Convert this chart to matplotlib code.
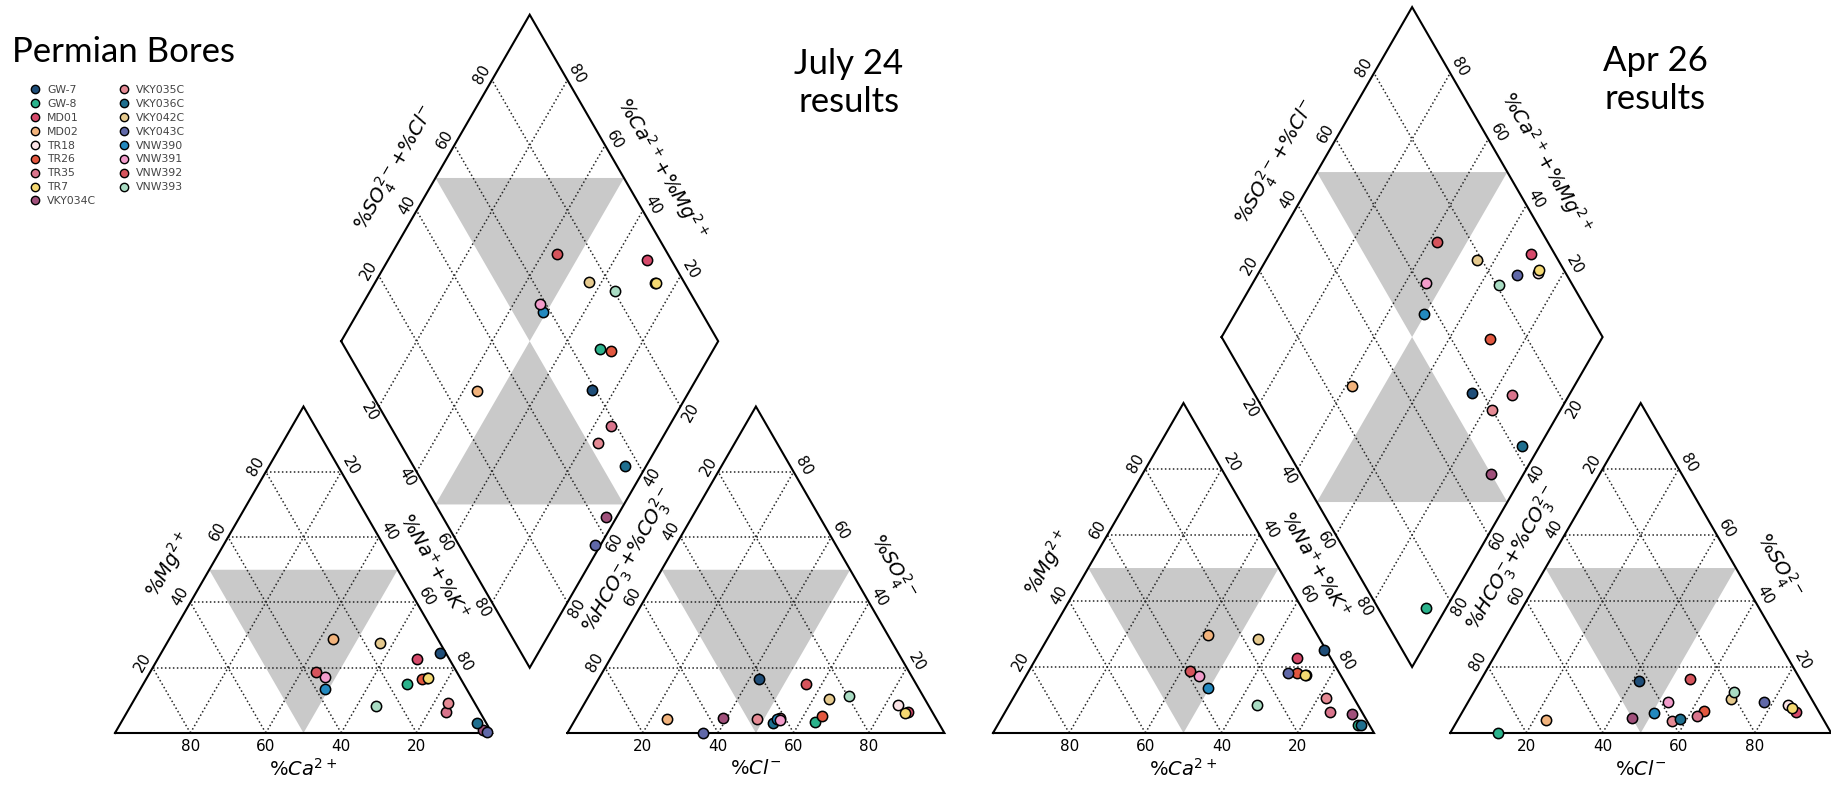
import numpy as np
import matplotlib.pyplot as plt
from matplotlib.lines import Line2D

plt.rcParams['font.family'] = 'DejaVu Sans'
plt.rcParams['mathtext.fontset'] = 'dejavusans'

# Bores and their marker colours
samples = ['GW-7', 'GW-8', 'MD01', 'MD02', 'TR18', 'TR26', 'TR35', 'TR7',
           'VKY034C', 'VKY035C', 'VKY036C', 'VKY042C', 'VKY043C',
           'VNW390', 'VNW391', 'VNW392', 'VNW393']
colors = ['#1f4e79', '#2bb38c', '#d64a6b', '#f2b37c', '#fbe3e6', '#e2573f',
          '#d9748c', '#f5d972', '#a0507b', '#e58a94', '#1f6f8f', '#e6ca8e',
          '#6068a8', '#2389bf', '#f29ccb', '#d6545c', '#a9dcc3']

# July 24 results, % of meq/L
jul_ca = [1.6, 15.1, 8.7, 27.7, 8.8, 10.4, 9.0, 8.6, 1.9, 7.1, 2.6, 15.9, 1.2, 37.6, 35.7, 37.3, 26.7]
jul_mg = [24.4, 15.0, 22.6, 28.7, 16.8, 16.5, 6.5, 16.8, 0.9, 9.3, 3.0, 27.5, 0.4, 13.4, 17.2, 18.8, 8.3]
jul_nak = [74.0, 69.9, 68.7, 43.6, 74.4, 73.1, 84.5, 74.6, 97.2, 83.6, 94.4, 56.6, 98.4, 49.0, 47.1, 43.9, 65.0]
jul_hco3 = [40.9, 32.5, 6.4, 71.6, 7.9, 29.9, 41.4, 7.5, 56.6, 47.5, 43.8, 25.3, 64.0, 42.2, 41.6, 29.3, 19.5]
jul_so4 = [16.4, 3.5, 6.3, 4.2, 8.6, 5.3, 4.5, 6.0, 4.5, 4.3, 3.2, 10.4, 0.0, 4.3, 4.0, 15.0, 11.4]
jul_cl = [42.7, 64.0, 87.3, 24.2, 83.5, 64.8, 54.1, 86.5, 38.9, 48.2, 53.0, 64.3, 36.0, 53.5, 54.4, 55.7, 69.1]

# Apr 26 results, % of meq/L
apr_ca = [0.5, 2.9, 8.8, 28.6, 9.0, 11.0, 8.3, 9.3, 2.8, 7.3, 2.3, 16.3, 13.5, 36.7, 37.2, 38.9, 26.5]
apr_mg = [25.2, 2.4, 22.6, 29.7, 17.5, 18.3, 6.5, 17.6, 5.7, 10.5, 2.4, 28.4, 18.3, 13.6, 17.3, 18.9, 8.5]
apr_nak = [74.3, 94.7, 68.6, 41.7, 73.5, 70.7, 85.2, 73.1, 91.5, 82.2, 95.3, 55.3, 68.2, 49.7, 45.5, 42.2, 65.0]
apr_hco3 = [42.6, 87.4, 6.1, 73.0, 7.2, 30.0, 32.5, 6.6, 50.0, 40.0, 37.7, 21.3, 12.9, 43.3, 38.2, 28.9, 19.3]
apr_so4 = [15.8, 0.0, 6.5, 3.9, 8.5, 6.7, 5.2, 7.5, 4.5, 3.6, 4.2, 10.2, 9.5, 6.2, 9.5, 16.3, 12.5]
apr_cl = [41.6, 12.6, 87.4, 23.1, 84.3, 63.3, 62.3, 85.9, 45.5, 56.4, 58.1, 68.5, 77.6, 50.5, 52.3, 54.8, 68.2]

ticks = [20, 40, 60, 80]

# Piper geometry
OFF = 0.1
H = np.sqrt(3) / 2
OFFY = OFF * np.tan(np.pi / 3)
L = np.array([0.5 + OFF, H + OFFY])
T = np.array([1 + OFF, 2 * H + OFFY])
R = np.array([1.5 + OFF, H + OFFY])
B = np.array([1 + OFF, OFFY])
AX0 = 1 + 2 * OFF

N_UL = np.array([-H, 0.5])
N_UR = np.array([H, 0.5])
N_LL = np.array([-H, -0.5])
N_LR = np.array([H, -0.5])


def cation_xy(mg, nak):
    mg, nak = np.asarray(mg) / 100, np.asarray(nak) / 100
    return nak + 0.5 * mg, H * mg


def anion_xy(so4, cl):
    so4, cl = np.asarray(so4) / 100, np.asarray(cl) / 100
    return AX0 + cl + 0.5 * so4, H * so4


def diamond_xy(nak, hco3):
    p, q = np.asarray(nak) / 100, np.asarray(hco3) / 100
    return 1 + OFF + 0.5 * (p - q), OFFY + H * (2 - p - q)


def seg(ax, a, b, **kw):
    ax.plot([a[0], b[0]], [a[1], b[1]], **kw)


def label_at(ax, pt, normal, dist, text, rot, fs):
    p = np.asarray(pt) + dist * normal
    ax.text(p[0], p[1], text, rotation=rot, ha='center', va='center',
            fontsize=fs, rotation_mode='anchor', clip_on=False)


def draw_piper(ax, mg, nak, so4, cl, hco3):
    grid = dict(color='0.15', ls=(0, (1.0, 1.6)), lw=1.1, zorder=2)
    edge = dict(color='k', lw=1.5, zorder=3, solid_joinstyle='miter')
    shade = dict(color='#c9c9c9', lw=0, zorder=1)

    # shaded centre fields
    ax.fill([0.25, 0.75, 0.5], [H / 2, H / 2, 0], **shade)
    ax.fill([AX0 + 0.25, AX0 + 0.75, AX0 + 0.5], [H / 2, H / 2, 0], **shade)
    ax.fill([0.75 + OFF, 1.25 + OFF, 1 + OFF],
            [1.5 * H + OFFY, 1.5 * H + OFFY, H + OFFY], **shade)
    ax.fill([1 + OFF, 0.75 + OFF, 1.25 + OFF],
            [H + OFFY, 0.5 * H + OFFY, 0.5 * H + OFFY], **shade)

    for t in np.array(ticks) / 100:
        # cation triangle
        seg(ax, (0.5 * t, H * t), (1 - 0.5 * t, H * t), **grid)
        seg(ax, (t, 0), (t + 0.5 * (1 - t), H * (1 - t)), **grid)
        seg(ax, (1 - t, 0), (0.5 * (1 - t), H * (1 - t)), **grid)
        # anion triangle
        seg(ax, (AX0 + 0.5 * t, H * t), (AX0 + 1 - 0.5 * t, H * t), **grid)
        seg(ax, (AX0 + t, 0), (AX0 + t + 0.5 * (1 - t), H * (1 - t)), **grid)
        seg(ax, (AX0 + 1 - t, 0), (AX0 + 0.5 * (1 - t), H * (1 - t)), **grid)
        # diamond
        seg(ax, L + t * (B - L), T + t * (R - T), **grid)
        seg(ax, R + t * (B - R), T + t * (L - T), **grid)

    # outlines
    ax.plot([0, 1, 0.5, 0], [0, 0, H, 0], **edge)
    ax.plot([AX0, AX0 + 1, AX0 + 0.5, AX0], [0, 0, H, 0], **edge)
    ax.plot([L[0], T[0], R[0], B[0], L[0]], [L[1], T[1], R[1], B[1], L[1]], **edge)

    # tick labels
    tfs, d = 11, 0.03
    for v in ticks:
        t = v / 100
        s = str(v)
        label_at(ax, (1 - t, 0), np.array([0, -1]), 0.036, s, 0, tfs)
        label_at(ax, (0.5 * t, H * t), N_UL, d, s, 60, tfs)
        label_at(ax, (0.5 + 0.5 * t, H * (1 - t)), N_UR, d, s, -60, tfs)
        label_at(ax, (AX0 + t, 0), np.array([0, -1]), 0.036, s, 0, tfs)
        label_at(ax, (AX0 + 0.5 * (1 - t), H * (1 - t)), N_UL, d, s, 60, tfs)
        label_at(ax, (AX0 + 1 - 0.5 * t, H * t), N_UR, d, s, -60, tfs)
        label_at(ax, L + t * (T - L), N_UL, d, s, 60, tfs)
        label_at(ax, R + t * (T - R), N_UR, d, s, -60, tfs)
        label_at(ax, L + t * (B - L), N_LL, d, s, -60, tfs)
        label_at(ax, R + t * (B - R), N_LR, d, s, 60, tfs)

    # axis titles
    lfs = 14
    up_l = np.array([0.5, H])
    up_r = np.array([-0.5, H])
    label_at(ax, (0.5, 0), np.array([0, -1]), 0.095, r'%$Ca^{2+}$', 0, lfs)
    label_at(ax, (AX0 + 0.5, 0), np.array([0, -1]), 0.095, r'%$Cl^{-}$', 0, lfs)
    label_at(ax, 0.46 * up_l, N_UL, 0.10, r'%$Mg^{2+}$', 60, lfs)
    label_at(ax, np.array([1, 0]) + 0.46 * up_r, N_UR, 0.087,
             r'%$Na^{+}$+%$K^{+}$', -60, lfs)
    label_at(ax, np.array([AX0, 0]) + 0.48 * up_l, N_UL, 0.087,
             r'%$HCO_3^{-}$+%$CO_3^{2-}$', 60, lfs)
    label_at(ax, np.array([AX0 + 1, 0]) + 0.45 * up_r, N_UR, 0.10,
             r'%$SO_4^{2-}$', -60, lfs)
    label_at(ax, L + 0.47 * up_l, N_UL, 0.105, r'%$SO_4^{2-}$+%$Cl^{-}$', 60, lfs)
    label_at(ax, R + 0.47 * up_r, N_UR, 0.10, r'%$Ca^{2+}$+%$Mg^{2+}$', -60, lfs)

    # samples
    cx, cy = cation_xy(mg, nak)
    ax2, ay = anion_xy(so4, cl)
    dx, dy = diamond_xy(nak, hco3)
    for i, c in enumerate(colors):
        for x, y in ((cx[i], cy[i]), (ax2[i], ay[i]), (dx[i], dy[i])):
            ax.scatter(x, y, s=55, color=c, edgecolors='k', linewidths=1.1,
                       zorder=5 + i, clip_on=False)


W, HT = 1835, 785
fig = plt.figure(figsize=(W / 100, HT / 100), dpi=100)


def piper_axes(x0, base, unit, xlim, ylim):
    left = (x0 + xlim[0] * unit) / W
    width = (xlim[1] - xlim[0]) * unit / W
    bottom = (HT - base + ylim[0] * unit) / HT
    height = (ylim[1] - ylim[0]) * unit / HT
    ax = fig.add_axes([left, bottom, width, height])
    ax.set_xlim(*xlim)
    ax.set_ylim(*ylim)
    ax.axis('off')
    return ax


ax_jul = piper_axes(115, 733, 377, (-0.3, 2.3), (-0.13, 1.93))
draw_piper(ax_jul, jul_mg, jul_nak, jul_so4, jul_cl, jul_hco3)

ax_apr = piper_axes(993, 733, 381, (-0.25, 2.2), (-0.13, 1.92))
draw_piper(ax_apr, apr_mg, apr_nak, apr_so4, apr_cl, apr_hco3)

fig.text(12 / W, 1 - 62 / HT, 'Permian Bores', fontsize=25, family='Lato',
         va='baseline', ha='left')
fig.text(849 / W, 1 - 83 / HT, 'July 24\nresults', fontsize=25, family='Lato',
         ha='center', va='center', linespacing=1.2)
fig.text(1655 / W, 1 - 80 / HT, 'Apr 26\nresults', fontsize=25, family='Lato',
         ha='center', va='center', linespacing=1.2)

handles = [Line2D([], [], ls='none', marker='o', markersize=6,
                  markerfacecolor=c, markeredgecolor='k', markeredgewidth=1.0)
           for c in colors]
fig.legend(handles, samples, loc='upper left', bbox_to_anchor=(30 / W, 1 - 85 / HT),
           ncol=2, frameon=False, fontsize=7.8, labelcolor='#444444',
           handlelength=1.0, handletextpad=0.6, labelspacing=0.36,
           columnspacing=2.0, borderpad=0, borderaxespad=0)

fig.savefig('out.png', dpi=100)
